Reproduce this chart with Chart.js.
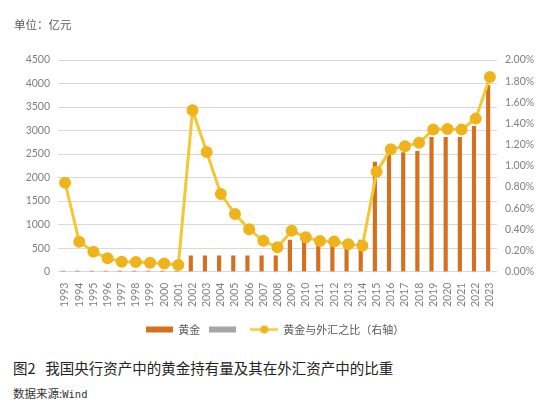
<!DOCTYPE html>
<html>
<head>
<meta charset="utf-8">
<script src="https://cdn.jsdelivr.net/npm/chart.js@4"></script>
<style>
html,body{margin:0;padding:0;background:#fff;}
body{width:550px;height:412px;position:relative;overflow:hidden;font-family:"Noto Sans CJK SC","Noto Sans",sans-serif;}
#wrap{position:absolute;left:0;top:0;width:550px;height:345px;}
#unit{position:absolute;left:14px;top:16px;font-size:11.5px;color:#595959;}
#cap{position:absolute;left:13px;top:357px;font-size:14.5px;color:#222;font-family:"Noto Sans CJK SC",serif;white-space:pre;}
#src{position:absolute;left:13px;top:385px;font-size:11.5px;color:#333;}
#src span{font-family:"DejaVu Sans Mono","Liberation Mono",monospace;font-size:10.5px;}
</style>
</head>
<body>
<div id="wrap"><canvas id="c"></canvas></div>
<div id="unit">单位：亿元</div>
<div id="cap">图2   我国央行资产中的黄金持有量及其在外汇资产中的比重</div>
<div id="src">数据来源:<span>Wind</span></div>
<script>
const years = ["1993","1994","1995","1996","1997","1998","1999","2000","2001","2002","2003","2004","2005","2006","2007","2008","2009","2010","2011","2012","2013","2014","2015","2016","2017","2018","2019","2020","2021","2022","2023"];
const goldValues = [12,12,12,12,12,12,12,12,12,337,337,337,337,337,337,337,670,670,670,670,670,670,2330,2542,2530,2560,2856,2856,2856,3090,3960];
const greyValues = years.map(() => null);
const ratioValues = [0.84,0.283,0.189,0.126,0.094,0.09,0.085,0.078,0.063,1.525,1.13,0.733,0.544,0.40,0.292,0.23,0.386,0.324,0.29,0.285,0.258,0.245,0.943,1.157,1.186,1.217,1.343,1.349,1.343,1.446,1.84];
const leftTicks = [0,500,1000,1500,2000,2500,3000,3500,4000,4500];
const rightTicks = [0,0.2,0.4,0.6,0.8,1.0,1.2,1.4,1.6,1.8,2.0];
const labelGold = "黄金";
const labelRatio = "黄金与外汇之比（右轴）";

const ORANGE = "#D5701E", GREY = "#A6A6A6", LINE = "#F3C834", DOT = "#EFB41C";

function boxImg(color){
  const c = document.createElement('canvas'); c.width = 27; c.height = 7;
  const x = c.getContext('2d'); x.fillStyle = color; x.fillRect(0,0.5,27,6); return c;
}
function lineImg(){
  const c = document.createElement('canvas'); c.width = 28; c.height = 10;
  const x = c.getContext('2d'); x.strokeStyle = LINE; x.lineWidth = 2.5;
  x.beginPath(); x.moveTo(0,5); x.lineTo(28,5); x.stroke();
  x.fillStyle = DOT; x.beginPath(); x.arc(14,5,4,0,Math.PI*2); x.fill(); return c;
}

const order = {[labelGold]:0, "":1, [labelRatio]:2};
const tickFont = {family:"Lato, 'Noto Sans', sans-serif", size:10.5};
new Chart(document.getElementById('c'), {
  data: {
    labels: years,
    datasets: [
      {type:'line', label: labelRatio, data: ratioValues, yAxisID:'y1', borderColor: LINE, backgroundColor: DOT,
       pointBackgroundColor: DOT, pointBorderColor: DOT, pointRadius: 4.5, borderWidth: 3, tension: 0, order: 0},
      {type:'bar', label: labelGold, data: goldValues, yAxisID:'y', backgroundColor: ORANGE, barThickness: 3.5, order: 1},
      {type:'bar', label: "", data: greyValues, yAxisID:'y', backgroundColor: GREY, barThickness: 3.5, order: 2}
    ]
  },
  options: {
    responsive: true, maintainAspectRatio: false, animation: false,
    layout: {padding: {top: 60, left: 0, right: 0, bottom: 0}},
    plugins: {
      tooltip: {enabled: false},
      legend: {
        position: 'bottom',
        labels: {
          usePointStyle: true, pointStyleWidth: 27, boxWidth: 27, boxHeight: 7, padding: 9,
          color: '#595959', font: {family:"'Noto Sans CJK SC', sans-serif", size: 11},
          sort: (a,b) => order[a.text] - order[b.text],
          generateLabels: (chart) => chart.data.datasets.map((ds,i) => ({
            text: ds.label, datasetIndex: i, hidden: false, lineWidth: 0,
            fontColor: '#595959',
            pointStyle: ds.type === 'line' ? lineImg() : boxImg(ds.backgroundColor)
          }))
        }
      }
    },
    scales: {
      x: {
        grid: {display: false},
        border: {display: false},
        afterFit: (s) => { s.height += 5; },
        ticks: {color: '#7F7F7F', font: tickFont, minRotation: 90, maxRotation: 90, autoSkip: false, padding: 3}
      },
      y: {
        position: 'left', min: 0, max: 4500,
        afterBuildTicks: (s) => { s.ticks = leftTicks.map(v => ({value: v})); },
        afterFit: (s) => { s.width = 58; },
        grid: {color: '#D9D9D9', lineWidth: 1, drawTicks: false},
        border: {display: false},
        ticks: {color: '#7F7F7F', font: tickFont, padding: 8, callback: (v) => String(v)}
      },
      y1: {
        position: 'right', min: 0, max: 2.0,
        afterBuildTicks: (s) => { s.ticks = rightTicks.map(v => ({value: v})); },
        afterFit: (s) => { s.width = 53; },
        grid: {display: false, drawTicks: false},
        border: {display: false},
        ticks: {color: '#7F7F7F', font: tickFont, padding: 8, callback: (v) => v.toFixed(2) + '%'}
      }
    }
  }
});
</script>
</body>
</html>
